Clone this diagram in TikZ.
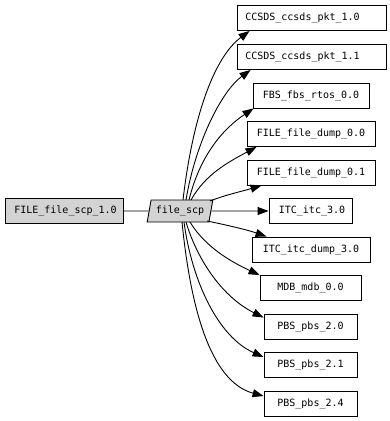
\documentclass[tikz,border=0pt]{standalone}
\usepackage{fontspec}
\setmonofont{DejaVu Sans Mono}
\usetikzlibrary{shapes.geometric,arrows.meta,calc}
\definecolor{lg}{HTML}{D3D3D3}
\begin{document}
\begin{tikzpicture}[x=1pt,y=-1pt,
  lbl/.style={font=\ttfamily\fontsize{10}{12}\selectfont},
  box/.style={draw, line width=0.9pt, minimum height=25pt, inner sep=0pt, lbl},
  srcbox/.style={box, fill=lg},
  para/.style={draw, line width=0.9pt, fill=lg, trapezium, trapezium left angle=72,
    trapezium right angle=108, trapezium stretches, minimum width=66pt,
    minimum height=22pt, inner sep=0pt, lbl},
  edge/.style={draw, line width=0.9pt, -{Triangle[length=11pt,width=8pt]}},
  link/.style={draw, line width=0.9pt}]
\useasboundingbox (0,0) rectangle (389,421);

\node[srcbox, minimum width=118pt] (src) at (64,211) {\hspace*{3pt}FILE\_file\_scp\_1.0};
\node[para] (fs) at (180,211) {file\_scp};

\node[box, minimum width=149pt] (c1) at (311.5,18) {CCSDS\_ccsds\_pkt\_1.0\hspace*{18pt}};
\node[box, minimum width=149pt] (c2) at (311.5,57) {CCSDS\_ccsds\_pkt\_1.1\hspace*{18pt}};
\node[box, minimum width=116pt] (fbs) at (311,95.5) {FBS\_fbs\_rtos\_0.0};
\node[box, minimum width=128pt] (fd0) at (311,134) {FILE\_file\_dump\_0.0};
\node[box, minimum width=128pt] (fd1) at (311,172.5) {FILE\_file\_dump\_0.1};
\node[box, minimum width=83pt] (itc) at (310.5,211) {\hspace*{3pt}ITC\_itc\_3.0};
\node[box, minimum width=118pt] (itcd) at (311,249.5) {ITC\_itc\_dump\_3.0};
\node[box, minimum width=101pt] (mdb) at (310.5,288) {MDB\_mdb\_0.0};
\node[box, minimum width=93pt] (pbs0) at (310.5,326.5) {PBS\_pbs\_2.0};
\node[box, minimum width=93pt] (pbs1) at (310.5,365) {PBS\_pbs\_2.1};
\node[box, minimum width=93pt] (pbs4) at (310.5,404) {PBS\_pbs\_2.4};

\draw[link] (src) -- (fs);

\draw[edge] ($(fs.center)+(3,-11)$) .. controls +(10,-85) and +(-35,26) .. ($(c1.south west)+(13,0)$);
\draw[edge] ($(fs.center)+(6,-11)$) .. controls +(9,-55) and +(-30,22) .. ($(c2.south west)+(14,0)$);
\draw[edge] ($(fs.center)+(9,-11)$) .. controls +(11,-45) and +(-30,20) .. ($(fbs.south west)+(1,0)$);
\draw[edge] ($(fs.center)+(11,-11)$) .. controls +(14,-25) and +(-30,16) .. ($(fd0.south west)+(10,0)$);
\draw[edge] ($(fs.center)+(30,-10)$) .. controls +(15,-6) and +(-20,6) .. ($(fd1.south west)+(15,0)$);
\draw[edge] (fs) -- (itc);
\draw[edge] ($(fs.center)+(27,10)$) .. controls +(15,3) and +(-20,-7) .. ($(itcd.north west)+(15,0)$);
\draw[edge] ($(fs.center)+(10,11)$) .. controls +(15,25) and +(-28,-13) .. (mdb.north west);
\draw[edge] ($(fs.center)+(6,11)$) .. controls +(12,40) and +(-40,-20) .. ($(pbs0.north west)+(0,4)$);
\draw[edge] ($(fs.center)+(4,11)$) .. controls +(8,60) and +(-45,-20) .. ($(pbs1.north west)+(0,5)$);
\draw[edge] ($(fs.center)+(2,11)$) .. controls +(8,80) and +(-55,-15) .. ($(pbs4.north west)+(0,5)$);
\end{tikzpicture}
\end{document}
